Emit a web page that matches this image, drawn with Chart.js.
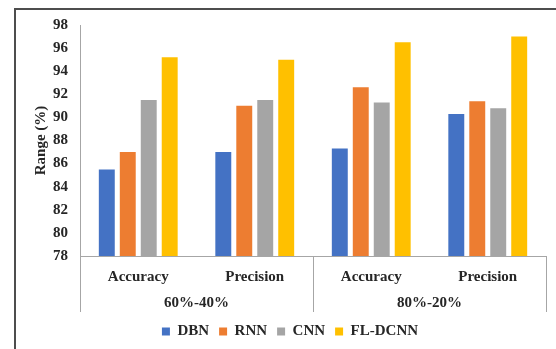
<!DOCTYPE html>
<html>
<head>
<meta charset="utf-8">
<script src="https://cdn.jsdelivr.net/npm/chart.js@4/dist/chart.umd.min.js"></script>
<style>
  html, body { margin: 0; padding: 0; background: #fff; }
  #wrap { width: 556px; height: 349px; }
</style>
</head>
<body>
<div id="wrap"><canvas id="grafico" width="556" height="349"></canvas></div>
<script>
// dados
var categorias = ["Accuracy", "Precision", "Accuracy", "Precision"];
var grupos = ["60%-40%", "80%-20%"];
var dbn = [85.5, 87.0, 87.3, 90.3];
var rnn = [87.0, 91.0, 92.6, 91.4];
var cnn = [91.5, 91.5, 91.3, 90.8];
var fldcnn = [95.2, 95.0, 96.5, 97.0];

var fonte = "'Liberation Serif', 'Times New Roman', serif";
var corTexto = "#262626";

// moldura externa + rotulos de grupo e divisorias
var extras = {
  id: "extras",
  beforeDraw: function (chart) {
    var ctx = chart.ctx;
    ctx.save();
    ctx.strokeStyle = "#4d4d4d";
    ctx.lineWidth = 2;
    ctx.beginPath();
    ctx.moveTo(15, 349);
    ctx.lineTo(15, 9);
    ctx.lineTo(556, 9);
    ctx.stroke();
    ctx.restore();
  },
  afterDraw: function (chart) {
    var ctx = chart.ctx;
    var x = chart.scales.x;
    var area = chart.chartArea;
    var base = area.bottom;
    ctx.save();
    ctx.strokeStyle = "#a6a6a6";
    ctx.lineWidth = 1;
    var meio = (x.getPixelForTick(1) + x.getPixelForTick(2)) / 2;
    var divs = [area.left, meio, area.right];
    divs.forEach(function (d) {
      ctx.beginPath();
      ctx.moveTo(Math.round(d) + 0.5, base);
      ctx.lineTo(Math.round(d) + 0.5, base + 56);
      ctx.stroke();
    });
    ctx.fillStyle = corTexto;
    ctx.font = "bold 15px " + fonte;
    ctx.textAlign = "center";
    ctx.textBaseline = "middle";
    for (var g = 0; g < grupos.length; g++) {
      var cx = (x.getPixelForTick(g * 2) + x.getPixelForTick(g * 2 + 1)) / 2;
      ctx.fillText(grupos[g], cx, base + 47);
    }
    ctx.restore();
  }
};

var dados = {
  labels: categorias,
  datasets: [
    { label: "DBN", data: dbn, backgroundColor: "#4472C4" },
    { label: "RNN", data: rnn, backgroundColor: "#ED7D31" },
    { label: "CNN", data: cnn, backgroundColor: "#A5A5A5" },
    { label: "FL-DCNN", data: fldcnn, backgroundColor: "#FFC000" }
  ]
};

var options = {
  responsive: false,
  animation: false,
  layout: { padding: { left: 34, right: 10, top: 25, bottom: 0 } },
  datasets: { bar: { categoryPercentage: 0.72, barPercentage: 0.76 } },
  plugins: {
    legend: {
      position: "bottom",
      labels: {
        boxWidth: 8,
        boxHeight: 8,
        padding: 10,
        color: corTexto,
        font: { family: fonte, size: 15, weight: "bold" }
      }
    },
    tooltip: { enabled: false }
  },
  scales: {
    x: {
      grid: { display: false, drawTicks: false },
      border: { display: true, color: "#a6a6a6" },
      ticks: {
        color: corTexto,
        padding: 12,
        maxRotation: 0,
        font: { family: fonte, size: 15, weight: "bold" }
      },
      afterFit: function (scale) { scale.height = 58; }
    },
    y: {
      min: 78,
      max: 98,
      grid: { display: false, drawTicks: false },
      border: { display: true, color: "#a6a6a6" },
      ticks: {
        stepSize: 2,
        padding: 12,
        color: corTexto,
        font: { family: fonte, size: 15, weight: "bold" }
      },
      title: {
        display: true,
        text: "Range (%)",
        color: corTexto,
        padding: { top: -2, bottom: 0 },
        font: { family: fonte, size: 15, weight: "bold" }
      },
      afterFit: function (scale) { scale.width = 46; }
    }
  }
};

new Chart(document.getElementById("grafico"), {
  type: "bar",
  data: dados,
  options: options,
  plugins: [extras]
});
</script>
</body>
</html>
